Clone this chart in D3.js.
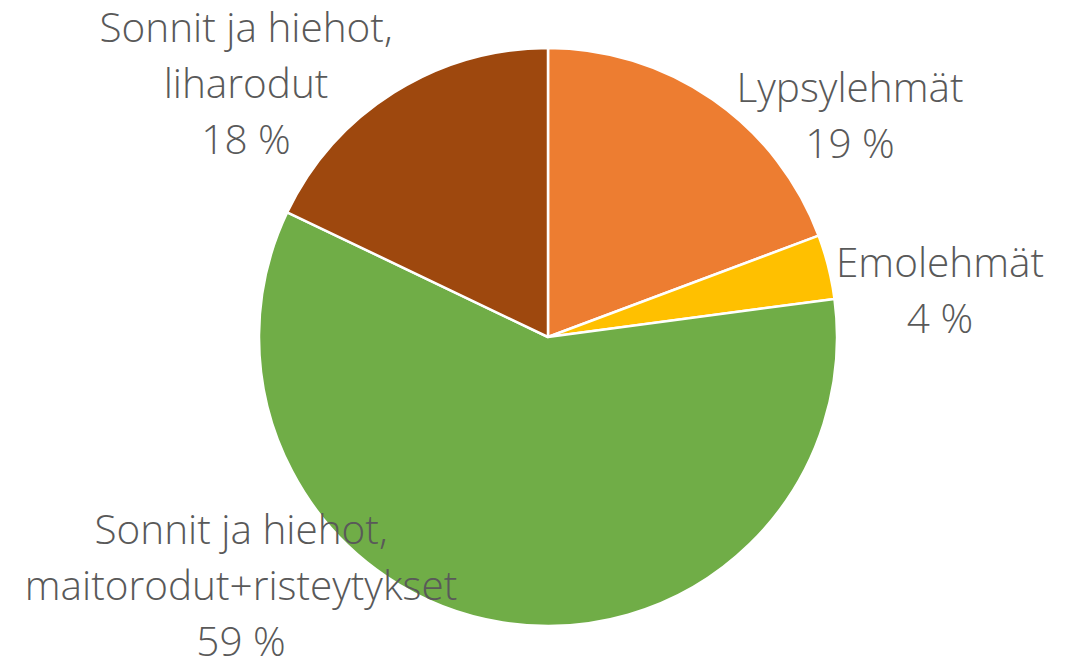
<!DOCTYPE html>
<html>
<head>
<meta charset="utf-8">
<script src="https://cdn.jsdelivr.net/npm/d3@7"></script>
<style>
  body { margin: 0; background: #fff; }
  text { font-family: "Segoe UI", "Open Sans", "Noto Sans", sans-serif; font-weight: 300; fill: #595959; }
</style>
</head>
<body>
<div id="chart"></div>
<script>
const categories = [
  ['Lypsylehmät'],
  ['Emolehmät'],
  ['Sonnit ja hiehot,', 'maitorodut+risteytykset'],
  ['Sonnit ja hiehot,', 'liharodut']
];
const values = [19.3, 3.6, 59.2, 17.9];
const colors = ['#ED7D31', '#FFC000', '#70AD47', '#9E480E'];
// label block centres, relative to pie centre (first baseline)
const labelPos = [[302, -235], [392, -60], [-307, 207], [-302, -295]];

const width = 1071, height = 664;
const cx = 548, cy = 337, radius = 289;

const svg = d3.select('#chart')
  .append('svg')
  .attr('width', width)
  .attr('height', height);

const g = svg.append('g').attr('transform', `translate(${cx},${cy})`);

const pie = d3.pie().sort(null).value(d => d);
const arc = d3.arc().innerRadius(0).outerRadius(radius);
const arcs = pie(values);

g.selectAll('path')
  .data(arcs)
  .enter()
  .append('path')
  .attr('d', arc)
  .attr('fill', (d, i) => colors[i])
  .attr('stroke', '#fff')
  .attr('stroke-width', 2.5)
  .attr('stroke-linejoin', 'round');

const total = d3.sum(values);
const lineH = 56;

arcs.forEach((d, i) => {
  const lines = categories[i].concat([Math.round(d.data / total * 100) + ' %']);
  const t = g.append('text')
    .attr('text-anchor', 'middle')
    .style('font-size', '40.5px');
  lines.forEach((line, j) => {
    t.append('tspan')
      .attr('x', labelPos[i][0])
      .attr('y', labelPos[i][1] + j * lineH)
      .text(line);
  });
});
</script>
</body>
</html>
